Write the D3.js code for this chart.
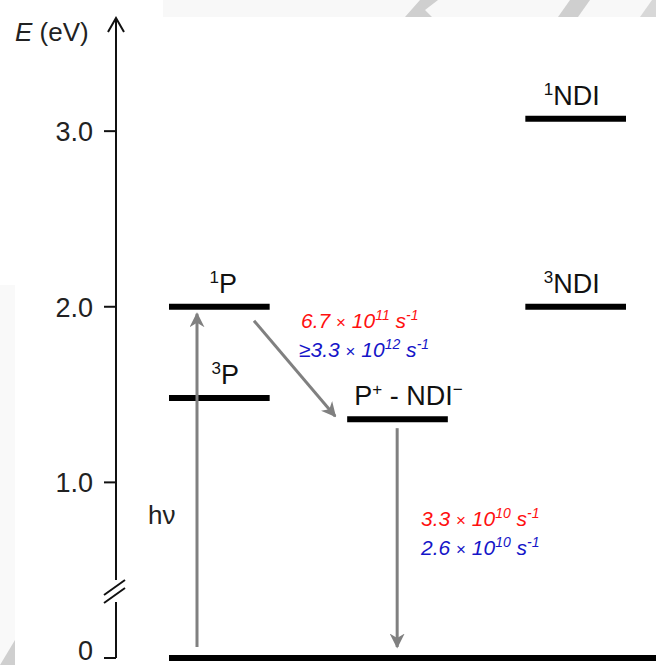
<!DOCTYPE html>
<html>
<head>
<meta charset="utf-8">
<script src="https://d3js.org/d3.v7.min.js"></script>
<style>
  body { margin: 0; background: #fff; }
  svg { display: block; font-family: "Liberation Sans", Arial, sans-serif; }
</style>
</head>
<body>
<div id="chart"></div>
<script>
// energy levels (eV), grouped by column
const columns = ["P", "CT", "NDI"]
const levelNames = ["1P", "3P", "CT", "1NDI", "3NDI"]
const levelCols = ["P", "P", "CT", "NDI", "NDI"]
const levelEnergies = [2.0, 1.48, 1.36, 3.07, 2.0]
const levelLabels = [
  [["1", true], ["P", false]],
  [["3", true], ["P", false]],
  [["P", false], ["+", true], [" - NDI", false], ["\u2212", true]],
  [["1", true], ["NDI", false]],
  [["3", true], ["NDI", false]]
]
const tickValues = [0, 1, 2, 3]
const tickLabels = ["0", "1.0", "2.0", "3.0"]

// rate constants (s^-1): red and blue sets
const rateMantissaRed = ["6.7", "3.3"]
const rateExpRed = ["11", "10"]
const rateMantissaBlue = ["3.3", "2.6"]
const rateExpBlue = ["12", "10"]
const ratePrefixBlue = ["\u2265", ""]

const width = 656
const height = 665

const svg = d3.select("#chart")
  .append("svg")
  .attr("width", width)
  .attr("height", height)

// faint background shapes from the scan
const bg = svg.append("g")
bg.append("rect").attr("x", 163).attr("y", 0).attr("width", 493).attr("height", 17).attr("fill", "#f8f8f8")
bg.append("path").attr("d", "M405,17 L420,0 L438,0 L425,10 L432,17 Z").attr("fill", "#cfcfcf")
bg.append("path").attr("d", "M558,17 L570,0 L590,0 L578,17 Z").attr("fill", "#cfcfcf")
bg.append("path").attr("d", "M640,17 L652,0 L656,0 L656,17 Z").attr("fill", "#d8d8d8")
bg.append("rect").attr("x", 0).attr("y", 285).attr("width", 15).attr("height", 380).attr("fill", "#f9f9f9")
bg.append("path").attr("d", "M0,665 L15,640 L15,665 Z").attr("fill", "#cfcfcf")

const y = d3.scaleLinear()
  .domain([0, 3.65])
  .range([658, 17])

const x = d3.scaleBand()
  .domain(columns)
  .range([169, 626])
  .paddingInner(0.435)

const axisX = 116

// axis with break
const axisG = svg.append("g").attr("stroke", "#111").attr("stroke-width", 2).attr("fill", "none")
axisG.append("line").attr("x1", axisX).attr("x2", axisX).attr("y1", y(3.65) + 1).attr("y2", 580)
axisG.append("line").attr("x1", axisX).attr("x2", axisX).attr("y1", 602).attr("y2", y(0))
axisG.append("path").attr("d", `M${axisX - 8},${y(3.65) + 15} L${axisX},${y(3.65) + 1} L${axisX + 8},${y(3.65) + 15}`)
axisG.append("line").attr("x1", 104).attr("y1", 595).attr("x2", 125).attr("y2", 580)
axisG.append("line").attr("x1", 104).attr("y1", 603).attr("x2", 125).attr("y2", 588)

const ticks = svg.append("g")
ticks.selectAll("line")
  .data(tickValues)
  .join("line")
  .attr("x1", 104)
  .attr("x2", axisX)
  .attr("y1", d => y(d))
  .attr("y2", d => y(d))
  .attr("stroke", "#111")
  .attr("stroke-width", 2)
ticks.selectAll("text")
  .data(tickValues)
  .join("text")
  .attr("x", 93)
  .attr("y", d => Math.min(y(d) + 10, 660))
  .attr("text-anchor", "end")
  .attr("font-size", 27)
  .attr("fill", "#222")
  .text((d, i) => tickLabels[i])

const title = svg.append("text").attr("x", 15).attr("y", 41).attr("font-size", 26).attr("fill", "#222")
title.append("tspan").attr("font-style", "italic").text("E")
title.append("tspan").text(" (eV)")

// ground state spans the whole width
svg.append("line")
  .attr("x1", 169).attr("x2", width)
  .attr("y1", y(0)).attr("y2", y(0))
  .attr("stroke", "#000").attr("stroke-width", 6)

const levels = levelNames.map((n, i) => ({ name: n, col: levelCols[i], e: levelEnergies[i], label: levelLabels[i] }))

svg.append("g")
  .selectAll("line")
  .data(levels)
  .join("line")
  .attr("x1", d => x(d.col))
  .attr("x2", d => x(d.col) + x.bandwidth())
  .attr("y1", d => y(d.e))
  .attr("y2", d => y(d.e))
  .attr("stroke", "#000")
  .attr("stroke-width", 6)

const labShift = { "1P": 4, "3P": 6, "CT": 11, "1NDI": -4, "3NDI": -4 }
const lab = svg.append("g")
  .selectAll("text")
  .data(levels)
  .join("text")
  .attr("x", d => x(d.col) + x.bandwidth() / 2 + labShift[d.name])
  .attr("y", d => y(d.e) - 14)
  .attr("text-anchor", "middle")
  .attr("font-size", 27)
  .attr("fill", "#111")
lab.each(function (d) {
  const t = d3.select(this)
  let raised = false
  d.label.forEach(([s, sup]) => {
    const dy = sup === raised ? 0 : (sup ? -10 : 10)
    raised = sup
    t.append("tspan")
      .attr("dy", dy)
      .attr("font-size", sup ? 17 : 27)
      .text(s)
  })
})

// arrows
const defs = svg.append("defs")
defs.append("marker")
  .attr("id", "head")
  .attr("viewBox", "0 0 10 10")
  .attr("refX", 9).attr("refY", 5)
  .attr("markerWidth", 5).attr("markerHeight", 5)
  .attr("orient", "auto")
  .append("path")
  .attr("d", "M0,0 L10,5 L0,10 L3,5 Z")
  .attr("fill", "#808080")

const arrowG = svg.append("g").attr("stroke", "#808080").attr("stroke-width", 3).attr("fill", "none")
const pX = x("P"), ctX = x("CT")
// excitation h-nu
arrowG.append("line")
  .attr("x1", pX + 28).attr("y1", y(0) - 11)
  .attr("x2", pX + 28).attr("y2", y(2.0) + 7)
  .attr("marker-end", "url(#head)")
// charge separation
arrowG.append("line")
  .attr("x1", pX + 85).attr("y1", y(2.0) + 14)
  .attr("x2", ctX - 12).attr("y2", y(1.36) - 3)
  .attr("marker-end", "url(#head)")
// recombination
arrowG.append("line")
  .attr("x1", ctX + 50).attr("y1", y(1.36) + 9)
  .attr("x2", ctX + 50).attr("y2", y(0) - 11)
  .attr("marker-end", "url(#head)")

svg.append("text")
  .attr("x", 148).attr("y", 524)
  .attr("font-size", 26).attr("fill", "#222")
  .text("h\u03bd")

// rate labels
function rateText(g, xPos, yPos, color, prefix, mant, exp) {
  const t = g.append("text")
    .attr("x", xPos).attr("y", yPos)
    .attr("font-size", 21).attr("font-style", "italic")
    .attr("fill", color)
  if (prefix) t.append("tspan").attr("font-style", "normal").text(prefix)
  t.append("tspan").text(mant + " ")
  t.append("tspan").attr("font-style", "normal").attr("font-size", 17).text("\u00d7")
  t.append("tspan").text(" 10")
  t.append("tspan").attr("font-size", 14).attr("dy", -8).text(exp)
  t.append("tspan").attr("dy", 8).text(" s")
  t.append("tspan").attr("font-size", 14).attr("dy", -8).text("-1")
}
const rates = svg.append("g")
const ratePos = [[301, y(2.0) + 21, 299], [421, y(0) - 132, 421]]
rateMantissaRed.forEach((m, i) => {
  rateText(rates, ratePos[i][0], ratePos[i][1], "#ff1010", "", m, rateExpRed[i])
  rateText(rates, ratePos[i][2], ratePos[i][1] + 29, "#1515c8", ratePrefixBlue[i], rateMantissaBlue[i], rateExpBlue[i])
})
</script>
</body>
</html>
